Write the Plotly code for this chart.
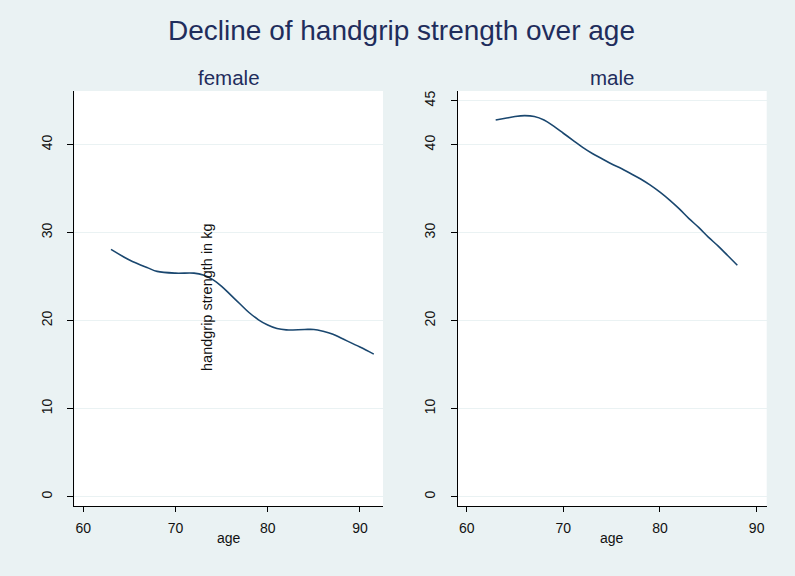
import plotly.graph_objects as go

# lowess-like smoothed handgrip strength (kg) by age
edad_mujer = [63, 65, 67, 68, 70, 72, 73, 74, 75, 76, 77, 78, 79, 80, 81, 82, 84, 85, 86, 87, 88, 90, 91.5]
fuerza_mujer = [28.1, 26.9, 26.0, 25.6, 25.4, 25.4, 25.2, 24.7, 23.9, 22.9, 21.9, 20.9, 20.1, 19.5,
                19.1, 18.95, 19.0, 19.0, 18.8, 18.5, 18.0, 17.0, 16.2]

edad_hombre = [63, 64, 65, 66, 67, 68, 69, 70, 71, 72, 73, 74, 75, 76, 77, 78, 79, 80, 81, 82, 83,
               84, 85, 86, 87, 88]
fuerza_hombre = [42.8, 43.0, 43.2, 43.3, 43.2, 42.8, 42.1, 41.3, 40.5, 39.7, 39.0, 38.4, 37.8, 37.3,
                 36.7, 36.1, 35.4, 34.6, 33.7, 32.7, 31.6, 30.6, 29.5, 28.5, 27.4, 26.3]

ticks_x = [60, 70, 80, 90]
ticks_y_mujer = [0, 10, 20, 30, 40]
ticks_y_hombre = [0, 10, 20, 30, 40, 45]

W, H = 795, 576
FUENTE = "Liberation Sans, Arial, sans-serif"
AZUL = '#1A476F'
NAVY = '#1F2D5C'
FONDO = '#EAF2F3'

fig = go.Figure()

fig.add_trace(go.Scatter(x=edad_mujer, y=fuerza_mujer, mode='lines', line_shape='spline',
                         line=dict(color=AZUL, width=1.6), xaxis='x', yaxis='y', showlegend=False))
fig.add_trace(go.Scatter(x=edad_hombre, y=fuerza_hombre, mode='lines', line_shape='spline',
                         line=dict(color=AZUL, width=1.6), xaxis='x2', yaxis='y2', showlegend=False))

eje_x = dict(tickvals=ticks_x, ticks='outside', ticklen=5, tickcolor='#000', showgrid=False,
             zeroline=False, showline=True, linecolor='#000', linewidth=1, ticklabelstandoff=4,
             tickfont=dict(size=14, color='#111', family=FUENTE))
eje_y = dict(ticks='outside', ticklen=6, tickcolor='#000', showgrid=True, gridcolor=FONDO,
             gridwidth=1, zeroline=False, showline=True, linecolor='#000', linewidth=1,
             tickangle=-90, range=[-1.06, 46.1], ticklabelstandoff=10,
             tickfont=dict(size=14, color='#111', family=FUENTE))

y0, y1 = 1 - 506 / H, 1 - 91 / H


def nota(texto, px, py, size, color, angulo=0):
    return dict(text=texto, x=px / W, y=1 - py / H, xref='paper', yref='paper',
                xanchor='center', yanchor='middle', showarrow=False, textangle=angulo,
                font=dict(size=size, color=color, family=FUENTE))


fig.update_layout(
    width=W, height=H,
    margin=dict(l=0, r=0, t=0, b=0),
    paper_bgcolor=FONDO, plot_bgcolor='white',
    font=dict(family=FUENTE),
    xaxis=dict(eje_x, domain=[74.3 / W, 383 / W], range=[59.02, 92.5], anchor='y'),
    yaxis=dict(eje_y, domain=[y0, y1], tickvals=ticks_y_mujer, anchor='x'),
    xaxis2=dict(eje_x, domain=[457.7 / W, 766.7 / W], range=[59.07, 91.04], anchor='y2'),
    yaxis2=dict(eje_y, domain=[y0, y1], tickvals=ticks_y_hombre, anchor='x2'),
    annotations=[
        nota('Decline of handgrip strength over age', 401, 31, 28, NAVY),
        nota('female', 228.7, 77, 20.5, NAVY),
        nota('male', 611.7, 77, 20.5, NAVY),
        nota('age', 228.6, 538, 14, '#111'),
        nota('age', 612.2, 538, 14, '#111'),
        nota('handgrip strength in kg', 207, 297, 14.5, '#111', -90),
    ],
)

fig.write_html("out.html", config={'displayModeBar': False},
               post_script="document.body.style.margin='0';")
